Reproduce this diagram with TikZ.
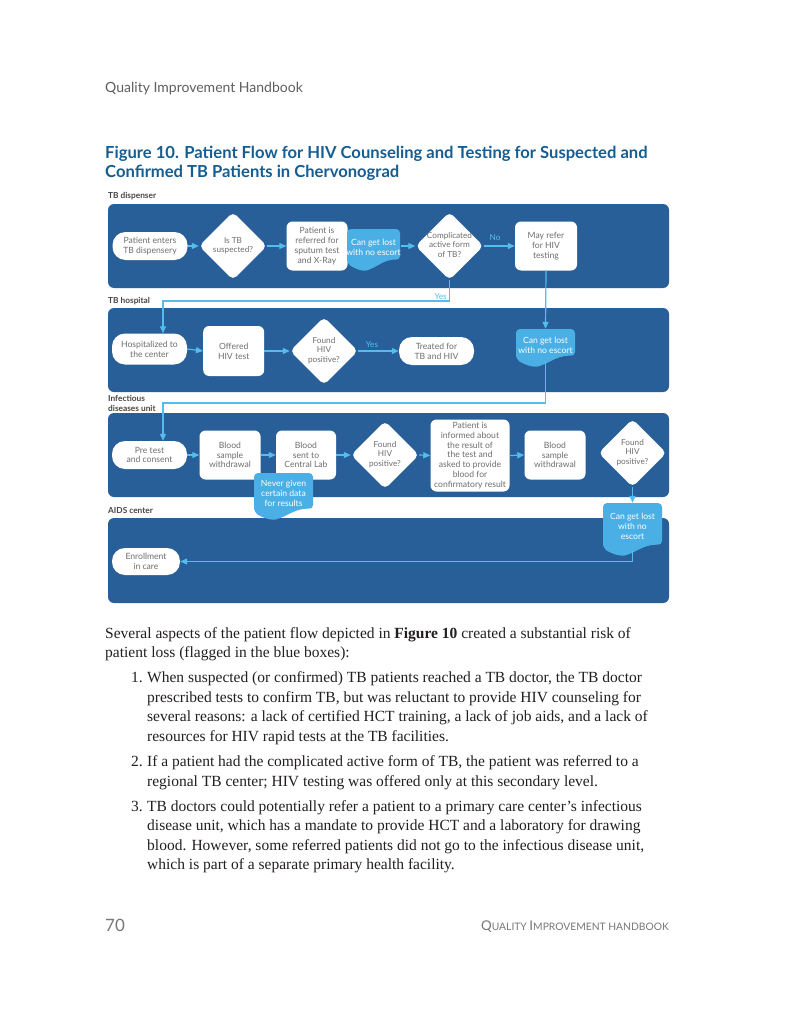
\documentclass[tikz,border=0pt]{standalone}
\usepackage{fontspec}
\setmainfont{Liberation Serif}
\newfontfamily\latof{Lato}
\usetikzlibrary{shapes.geometric,arrows.meta,calc}
\definecolor{laneblue}{RGB}{41,95,152}
\definecolor{docblue}{RGB}{74,175,229}
\definecolor{arrblue}{RGB}{86,188,238}
\definecolor{titleblue}{RGB}{22,94,145}
\definecolor{nodegrey}{RGB}{110,110,110}
\definecolor{labgrey}{RGB}{70,70,70}
\definecolor{headgrey}{RGB}{95,95,95}
\definecolor{footgrey}{RGB}{120,120,120}
\definecolor{bodyblack}{RGB}{35,31,32}
\newcommand{\dt}[1]{\makebox[0pt]{\fontsize{8.2}{9.6}\selectfont\begin{tabular}{@{}c@{}}#1\end{tabular}}}
\newcommand{\fsc}[2]{{\fontsize{13.4}{14}\selectfont #1}{\fontsize{10.3}{12}\selectfont #2}}
% name, x1, y1, x2, y2 (bottom of wave), text
\newcommand{\docbox}[6]{%
  \fill[docblue, rounded corners=4pt] (#2,{#5-8}) -- (#2,#3) -- (#4,#3) -- (#4,{#5-11})
    .. controls ({#2+0.75*(#4-#2)},{#5-12}) and ({#2+0.6*(#4-#2)},{#5-6}) .. ({#2+0.45*(#4-#2)},{#5-2})
    .. controls ({#2+0.3*(#4-#2)},{#5+1}) and ({#2+0.12*(#4-#2)},{#5-3}) .. (#2,{#5-8}) -- cycle;
  \node[doctext, minimum width={#4-#2}, minimum height={#5-6-#3}] (#1) at ({(#2+#4)/2},{(#3+#5-6)/2}) {#6};}
\begin{document}
\begin{tikzpicture}[x=1pt,y=-1pt,
  lane/.style={fill=laneblue, rounded corners=6pt},
  lanelab/.style={font=\latof\bfseries\fontsize{8.3}{9.5}\selectfont, text=labgrey, inner sep=0pt, anchor=base west},
  base/.style={font=\latof\fontsize{8.6}{9.8}\selectfont, text=nodegrey, align=center, inner sep=0pt, fill=white},
  pill/.style={base, rounded corners=13pt, minimum width=75pt, minimum height=28pt},
  wbox/.style={base, rounded corners=6pt},
  dia/.style={base, diamond, rounded corners=5pt, minimum width=68pt, minimum height=68pt},
  doctext/.style={font=\latof\fontsize{8.6}{9.8}\selectfont, text=white, align=center, inner sep=0pt},
  conn/.style={draw=arrblue, line width=1.2pt, -{Triangle[length=7pt,width=6pt]}},
  flowlab/.style={font=\latof\fontsize{8.3}{9}\selectfont, text=arrblue, inner sep=0pt},
  body/.style={font=\fontsize{15.5}{19}\selectfont, text=bodyblack, inner sep=0pt, anchor=base west},
  num/.style={font=\fontsize{15.5}{19}\selectfont, text=bodyblack, inner sep=0pt, anchor=base east},
  titl/.style={font=\latof\bfseries\fontsize{16.6}{19}\selectfont, text=titleblue, inner sep=0pt, anchor=base west}]
\useasboundingbox (0,0) rectangle (800,1035);
\fill[white] (0,0) rectangle (800,1035);

% header, title
\node[font=\latof\fontsize{14}{16}\selectfont, text=headgrey, inner sep=0pt, anchor=base west] (head) at (105,93) {Quality Improvement Handbook};
\node[titl] (tit1) at (105,159) {Figure 10. Patient Flow for HIV Counseling and Testing for Suspected and};
\node[titl] (tit2) at (105,177.5) {Confirmed TB Patients in Chervonograd};

% lanes
\fill[lane] (108,204) rectangle (669,288);
\fill[lane] (108,308) rectangle (669,392);
\fill[lane] (108,413) rectangle (669,497);
\fill[lane] (108,518) rectangle (669,603);
\node[lanelab] (lab1) at (108,198) {TB dispenser};
\node[lanelab] (lab2) at (108,303) {TB hospital};
\node[lanelab] (lab3a) at (108,401) {Infectious};
\node[lanelab] (lab3b) at (108,411) {diseases unit};
\node[lanelab] (lab4) at (108,513) {AIDS center};

% lane 1
\node[pill] (enter) at (150,246) {Patient enters\\TB dispensery};
\node[dia] (istb) at (233,246) {\dt{Is TB\\suspected?}};
\node[wbox, minimum width=61pt, minimum height=49pt] (refer) at (317,246) {Patient is\\referred for\\sputum test\\and X-Ray};
\docbox{lost1}{347}{229}{400}{271}{Can get lost\\with no escort}
\node[dia] (cplx) at (449.5,246) {\dt{Complicated\\active form\\of TB?}};
\node[wbox, minimum width=62pt, minimum height=49pt] (mayref) at (546,246) {May refer\\for HIV\\testing};

% lane 2
\node[pill, minimum height=31pt] (hosp) at (149.5,349) {Hospitalized to\\the center};
\node[wbox, minimum width=61pt, minimum height=50pt] (offer) at (233.7,351) {Offered\\HIV test};
\node[dia] (found1) at (324,351) {\dt{Found\\HIV\\positive?}};
\node[pill] (treat) at (436.5,351) {Treated for\\TB and HIV};
\docbox{lost2}{516}{329}{575}{367}{Can get lost\\with no escort}

% lane 3
\node[pill] (pre) at (149.5,455) {Pre test\\and consent};
\node[wbox, minimum width=61pt, minimum height=49pt] (bs1) at (230,455) {Blood\\sample\\withdrawal};
\node[wbox, minimum width=60pt, minimum height=49pt] (sent) at (306,455) {Blood\\sent to\\Central Lab};
\node[dia] (found2) at (385,455) {\dt{Found\\HIV\\positive?}};
\node[wbox, minimum width=79pt, minimum height=72pt] (inform) at (470,455.5) {Patient is\\informed about\\the result of\\the test and\\asked to provide\\blood for\\confirmatory result};
\node[wbox, minimum width=61pt, minimum height=49pt] (bs2) at (555,455) {Blood\\sample\\withdrawal};
\node[dia] (found3) at (632.5,453) {\dt{Found\\HIV\\positive?}};
\docbox{never}{254}{473}{313}{520}{Never given\\certain data\\for results}
\docbox{lost3}{603}{503}{662}{556}{Can get lost\\with no\\escort}

% lane 4
\node[pill, minimum width=68pt, minimum height=27pt] (enroll) at (146,561.5) {Enrollment\\in care};

% connectors lane 1
\draw[conn] (enter.east) -- (istb.west);
\draw[conn] (istb.east) -- (refer.west);
\draw[conn] (lost1.east |- cplx.west) -- (cplx.west);
\draw[conn] (cplx.east) -- (mayref.west);
\node[flowlab, anchor=base] (no) at (495,240) {No};
\draw[conn] (mayref.south) -- (lost2.north);
\coordinate (yc1) at (163,301);
\draw[conn] (cplx.south) |- (yc1) -- (yc1 |- hosp.north);
\node[flowlab, anchor=base east] (yes1) at (447,299) {Yes};

% connectors lane 2
\draw[conn] (hosp.east) -- (offer.west);
\draw[conn] (offer.east) -- (found1.west);
\draw[conn] (found1.east) -- (treat.west);
\node[flowlab, anchor=base] (yes2) at (372,347) {Yes};
\coordinate (yc2) at (163,403);
\draw[conn] (lost2.south) |- (yc2) -- (yc2 |- pre.north);

% connectors lane 3
\draw[conn] (pre.east) -- (bs1.west);
\draw[conn] (bs1.east) -- (sent.west);
\draw[conn] (sent.east) -- (found2.west);
\draw[conn] (found2.east) -- (inform.west);
\draw[conn] (inform.east) -- (bs2.west);
\draw[conn] (found3.south) -- (lost3.north);
\draw[conn] (lost3.south) |- (enroll.east);

% body text
\node[body] (p1) at (105,638) {Several aspects of the patient flow depicted in \textbf{Figure 10} created a substantial risk of};
\node[body] (p2) at (105,657) {patient loss (flagged in the blue boxes):};
\node[num] (n1) at (143,682) {1.};
\node[body] (a1) at (147,682) {When suspected (or confirmed) TB patients reached a TB doctor, the TB doctor};
\node[body] (a2) at (147,702) {prescribed tests to confirm TB, but was reluctant to provide HIV counseling for};
\node[body] (a3) at (147,721) {several reasons: a lack of certified HCT training, a lack of job aids, and a lack of};
\node[body] (a4) at (147,741) {resources for HIV rapid tests at the TB facilities.};
\node[num] (n2) at (143,766) {2.};
\node[body] (b1) at (147,766) {If a patient had the complicated active form of TB, the patient was referred to a};
\node[body] (b2) at (147,786) {regional TB center; HIV testing was offered only at this secondary level.};
\node[num] (n3) at (143,811) {3.};
\node[body] (d1) at (147,811) {TB doctors could potentially refer a patient to a primary care center’s infectious};
\node[body] (d2) at (147,830) {disease unit, which has a mandate to provide HCT and a laboratory for drawing};
\node[body] (d3) at (147,850) {blood. However, some referred patients did not go to the infectious disease unit,};
\node[body] (d4) at (147,869) {which is part of a separate primary health facility.};

% footer
\node[font=\latof\fontsize{17}{18}\selectfont, text=footgrey, inner sep=0pt, anchor=base west] (pg) at (105,931) {70};
\node[font=\latof, text=footgrey, inner sep=0pt, anchor=base east] (foot) at (669,930) {\fsc{Q}{UALITY} \fsc{I}{MPROVEMENT} {\fontsize{10.3}{12}\selectfont HANDBOOK}};
\end{tikzpicture}
\end{document}
